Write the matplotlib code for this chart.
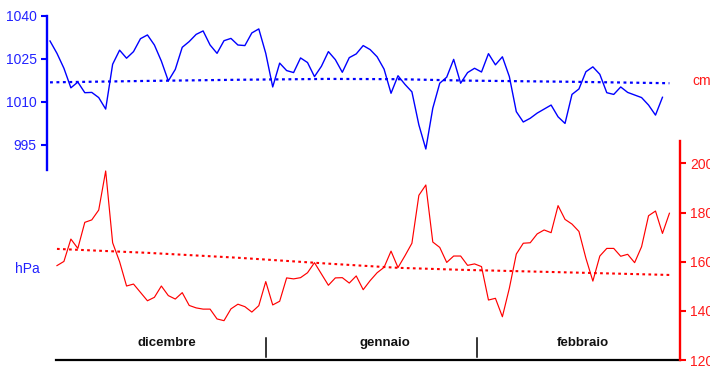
import numpy as np
import matplotlib
matplotlib.use("Agg")
import matplotlib.pyplot as plt
import matplotlib.transforms as mtransforms

plt.rcParams['font.family'] = ['Liberation Sans', 'DejaVu Sans']

# --- data (daily values) ---
pressure_hpa = [
    1031.2, 1026.9, 1021.7, 1014.9, 1016.9, 1013.2, 1013.3, 1011.5, 1007.5, 1023.1,
    1028.0, 1025.2, 1027.5, 1032.0, 1033.3, 1029.8, 1024.2, 1017.3, 1021.3, 1029.0,
    1031.0, 1033.5, 1034.7, 1029.8, 1026.9, 1031.3, 1032.1, 1029.8, 1029.6, 1034.0,
    1035.4, 1026.9, 1015.2, 1023.5, 1020.9, 1020.2, 1025.3, 1023.7, 1018.8, 1022.4,
    1027.5, 1024.7, 1020.3, 1025.4, 1026.7, 1029.6, 1028.2, 1025.7, 1021.4, 1013.0,
    1019.1, 1016.1, 1013.5, 1002.0, 993.6, 1007.8, 1016.5, 1018.6, 1024.8, 1016.5,
    1020.2, 1021.7, 1020.4, 1026.8, 1022.9, 1025.7, 1018.8, 1006.6, 1003.0, 1004.3,
    1006.1, 1007.5, 1008.9, 1004.8, 1002.5, 1012.6, 1014.5, 1020.5, 1022.2, 1019.6,
    1013.2, 1012.6, 1015.2, 1013.3, 1012.4, 1011.5, 1008.9, 1005.4, 1011.6,
]
level_cm = [
    158.4, 160.1, 169.2, 165.4, 176.0, 177.0, 181.0, 196.9, 167.7, 160.0,
    150.1, 150.9, 147.5, 144.1, 145.5, 150.1, 146.2, 144.8, 147.4, 142.2,
    141.2, 140.7, 140.7, 136.7, 136.0, 140.8, 142.7, 141.7, 139.5, 142.1,
    151.9, 142.4, 143.9, 153.4, 153.0, 153.5, 155.5, 159.6, 155.0, 150.4,
    153.4, 153.5, 151.3, 154.2, 148.6, 152.3, 155.5, 157.7, 164.3, 157.6,
    162.4, 167.5, 187.0, 191.2, 168.0, 165.8, 159.7, 162.3, 162.3, 158.5,
    159.1, 158.0, 144.4, 145.1, 137.6, 149.2, 163.1, 167.5, 167.7, 171.3,
    172.9, 171.8, 182.8, 177.2, 175.3, 172.3, 161.4, 152.1, 162.3, 165.4,
    165.4, 162.2, 163.0, 159.6, 166.1, 178.7, 180.6, 171.5, 179.7,
]
# trend lines (at a few days)
trend_blue_days = [0, 14, 27, 40, 50, 60, 75, 89]
trend_blue_hpa = [1016.8, 1017.3, 1017.7, 1018.0, 1017.9, 1017.4, 1017.0, 1016.5]
trend_red_days = [1, 14, 27, 40, 50, 59, 75, 89]
trend_red_cm = [165.2, 163.6, 161.6, 159.2, 157.5, 156.7, 155.6, 154.6]

months = ['dicembre', 'gennaio', 'febbraio']
month_centers = [16.8, 48.1, 76.6]
month_bounds = [31.0, 61.4]
hpa_ticks = [995, 1010, 1025, 1040]
cm_ticks = [120, 140, 160, 180, 200]

BLUE = '#0000ff'
BLUE_T = '#2222ff'
RED = '#ff0000'
RED_T = '#ff1a1a'

W, H = 710, 366
fig = plt.figure(figsize=(W / 100, H / 100), dpi=100)
x0, x1 = 46.7, 680.0
ytop, ybot = 15.7, 360.0
ax = fig.add_axes([x0 / W, 1 - ybot / H, (x1 - x0) / W, (ybot - ytop) / H])
ax2 = ax.twinx()

u_blue = np.arange(len(pressure_hpa))
u_red = np.arange(len(level_cm)) + 1.0

ax.set_xlim(-0.474, 90.52)
hpa_per_px = 1 / 2.873
ax.set_ylim(1040 - (ybot - ytop) * hpa_per_px, 1040)
cm_per_px = 1 / 2.458
ax2.set_ylim(120, 120 + (ybot - ytop) * cm_per_px)

ax.plot(u_blue, pressure_hpa, color=BLUE, lw=1.0, zorder=3)
ax2.plot(u_red, level_cm, color=RED, lw=0.85, zorder=3)

ax.plot(trend_blue_days, trend_blue_hpa, color=BLUE, lw=1.6, dashes=(1.3, 1.6), zorder=2)
ax2.plot(trend_red_days, trend_red_cm, color=RED, lw=1.5, dashes=(1.3, 1.6), zorder=2)

for a in (ax, ax2):
    a.spines['top'].set_visible(False)
    a.set_xticks([])
ax.spines['right'].set_visible(False)
ax2.spines['left'].set_visible(False)
ax2.spines['bottom'].set_visible(False)

ax.spines['left'].set_color(BLUE)
ax.spines['left'].set_linewidth(1.7)
ax.spines['left'].set_bounds(986.3, 1040)
ax.set_yticks(hpa_ticks)
ax.tick_params(axis='y', colors=BLUE, length=4.2, width=1.5, labelsize=10,
               pad=3, labelcolor=BLUE_T)

ax2.spines['right'].set_color(RED)
ax2.spines['right'].set_linewidth(1.7)
ax2.spines['right'].set_bounds(120, 209.2)
ax2.set_yticks(cm_ticks)
ax2.tick_params(axis='y', colors=RED, length=4.2, width=1.5, labelsize=10,
                pad=3, labelcolor=RED_T)

ax.spines['bottom'].set_color('black')
ax.spines['bottom'].set_linewidth(1.6)
ax.spines['bottom'].set_bounds(0.9, 90.52)

trans = mtransforms.blended_transform_factory(ax.transData, ax.transAxes)
h = ybot - ytop
for b in month_bounds:
    ax.plot([b, b], [(ybot - 357) / h, (ybot - 338) / h], color='black',
            lw=1.1, transform=trans, clip_on=False)
for name, c in zip(months, month_centers):
    ax.text(c, (ybot - 343) / h, name, transform=trans, ha='center', va='center',
            fontsize=9.5, fontweight='bold', color='#111111')

fig.text(27 / W, 1 - 269 / H, 'hPa', ha='center', va='center', fontsize=10, color=BLUE_T)
fig.text(692 / W, 1 - 81 / H, 'cm', ha='left', va='center', fontsize=10, color=RED_T)

fig.savefig('out.png', dpi=100)
